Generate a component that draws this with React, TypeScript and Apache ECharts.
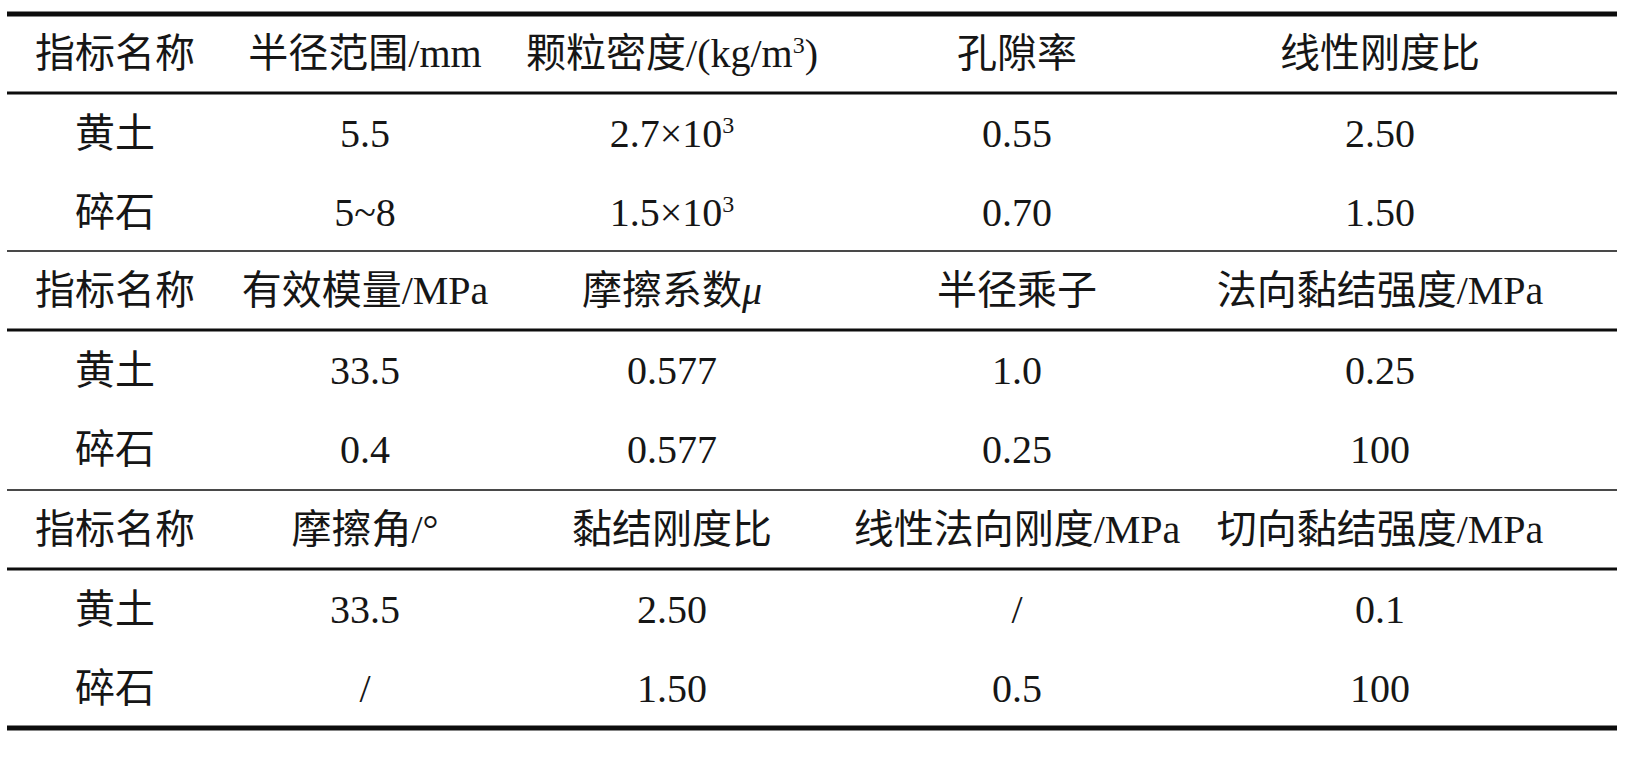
import React, { useEffect, useRef } from "react";
import * as echarts from "echarts";

// ---- table content ----
const titleCell = "指标名称";
const rowLabels = ["黄土", "碎石"];

const headers1 = ["半径范围/mm", "颗粒密度/(kg/m{sup|3})", "孔隙率", "线性刚度比"];
const loess1 = ["5.5", "2.7×10{sup|3}", "0.55", "2.50"];
const gravel1 = ["5~8", "1.5×10{sup|3}", "0.70", "1.50"];

const headers2 = ["有效模量/MPa", "摩擦系数{mu|μ}", "半径乘子", "法向黏结强度/MPa"];
const loess2 = ["33.5", "0.577", "1.0", "0.25"];
const gravel2 = ["0.4", "0.577", "0.25", "100"];

const headers3 = ["摩擦角/°", "黏结刚度比", "线性法向刚度/MPa", "切向黏结强度/MPa"];
const loess3 = ["33.5", "2.50", "/", "0.1"];
const gravel3 = ["/", "1.50", "0.5", "100"];

const groups = [
  { headers: headers1, rows: [loess1, gravel1] },
  { headers: headers2, rows: [loess2, gravel2] },
  { headers: headers3, rows: [loess3, gravel3] },
];

// ---- layout ----
const W = 1625;
const H = 768;
const colX = [115, 365, 672, 1017, 1380];
const groupTop = [14, 251, 490];
const headerOffset = 39;
const rowOffsets = [119, 198];
const underlineOffset = 79;
const lineX0 = 7;
const lineX1 = 1617;
const FONT = "Liberation Serif, Noto Sans CJK SC, serif";
const FS = 40;
const TEXT_COLOR = "#161616";
const LINE_COLOR = "#0d0d0d";

const rich = {
  sup: { fontSize: 24, fontFamily: FONT, verticalAlign: "top", fill: TEXT_COLOR },
  mu: { fontSize: FS, fontFamily: FONT, fontStyle: "italic", fill: TEXT_COLOR },
};

function textEl(x: number, y: number, text: string) {
  return {
    type: "text",
    x,
    y,
    style: {
      text,
      fontSize: FS,
      fontFamily: FONT,
      fill: TEXT_COLOR,
      align: "center",
      verticalAlign: "middle",
      rich,
    },
    silent: true,
  };
}

function hLine(y: number, w: number) {
  return {
    type: "line",
    shape: { x1: lineX0, y1: y, x2: lineX1, y2: y },
    style: { stroke: LINE_COLOR, lineWidth: w },
    silent: true,
  };
}

export default function App() {
  const ref = useRef<HTMLDivElement>(null);
  useEffect(() => {
    document.body.style.margin = "0";
    if (!ref.current) return;
    const chart = echarts.init(ref.current, undefined, { renderer: "svg" });
    const elements: any[] = [];
    groups.forEach((g, gi) => {
      const top = groupTop[gi];
      const hy = top + headerOffset;
      elements.push(textEl(colX[0], hy, titleCell));
      g.headers.forEach((h, ci) => elements.push(textEl(colX[ci + 1], hy, h)));
      g.rows.forEach((row, ri) => {
        const ry = top + rowOffsets[ri];
        elements.push(textEl(colX[0], ry, rowLabels[ri]));
        row.forEach((v, ci) => elements.push(textEl(colX[ci + 1], ry, v)));
      });
      elements.push(hLine(top + underlineOffset, 3));
    });
    elements.push(hLine(groupTop[0], 5));
    elements.push(hLine(groupTop[1], 1.5));
    elements.push(hLine(groupTop[2], 1.5));
    elements.push(hLine(728, 5));

    chart.setOption({
      animation: false,
      backgroundColor: "#ffffff",
      graphic: { elements },
    });
    return () => chart.dispose();
  }, []);
  return <div ref={ref} style={{ width: W, height: H }} />;
}
